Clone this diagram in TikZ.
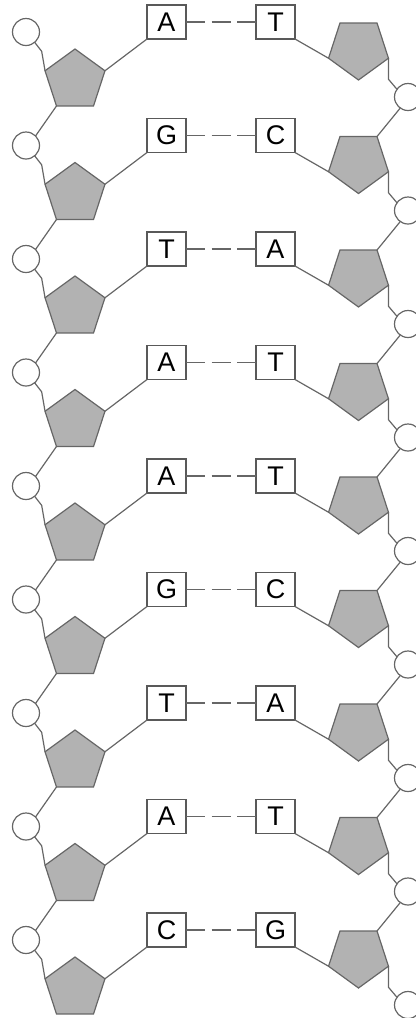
\documentclass[tikz,border=0pt]{standalone}
\usepackage{fontspec}
\setmainfont{Liberation Sans}
\usetikzlibrary{shapes.geometric}
\begin{document}
\begin{tikzpicture}[x=0.5pt,y=-0.5pt,line width=0.6pt,draw=black!60,
        phos/.style={circle,minimum size=13.5pt,inner sep=0,outer sep=0,draw=black!60,fill=white},
        sugar/.style={regular polygon,regular polygon sides=5,minimum size=31.5pt,inner sep=0,outer sep=0,draw=black!60,fill=black!30},
        nucl/.style={rectangle,minimum width=19.5pt,minimum height=17pt,inner sep=0,outer sep=0,draw=black!65,font=\fontsize{13.5}{15}\selectfont},
        hbond/.style={dash pattern=on 9.5pt off 3.25pt}]
        \useasboundingbox (0,0) rectangle (416,1018);
        \foreach \b/\p [count=\i from 0] in {A/T,G/C,T/A,A/T,A/T,G/C,T/A,A/T,C/G}{
          \node[phos]  (lc\i) at (26,{32+113.5*\i}) {};
          \node[sugar] (lp\i) at (75,{80.5+113.5*\i}) {};
          \node[nucl]  (lb\i) at (166.5,{22+113.5*\i}) {\b};
          \node[nucl]  (rb\i) at (275.5,{22+113.5*\i}) {\p};
          \node[sugar,shape border rotate=180] (rp\i) at (358.5,{48.5+113.5*\i}) {};
          \node[phos]  (rc\i) at (408,{97+113.5*\i}) {};
          \path
            (lp\i.18) edge (lb\i.south west)
            (rb\i.south east) edge (rp\i.198)
            (lb\i) edge[hbond] (rb\i)
            ;
          \draw (lc\i.-50) -- ++(7,9) -- (lp\i.162);
          \draw (rp\i.-18) -- ++(0,21) -- (rc\i.145);
        }
        % backbone between neighbouring units
        \foreach \i [count=\j from 1] in {0,...,7}{
          \path
            (lp\i.234) edge (lc\j.45)
            (rc\i.-125) edge (rp\j.54)
            ;
        }
\end{tikzpicture}
\end{document}
